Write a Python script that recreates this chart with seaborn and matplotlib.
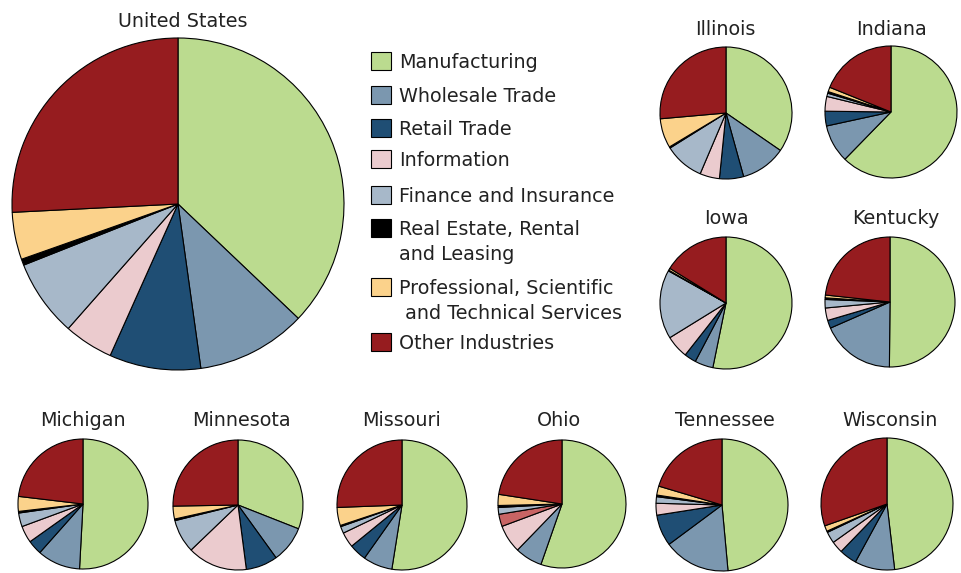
import numpy as np
import pandas as pd
import seaborn as sns
import matplotlib
matplotlib.use("Agg")
import matplotlib.pyplot as plt
from matplotlib.patches import Rectangle

sns.set_theme(style="white")
plt.rcParams['font.family'] = ['DejaVu Sans']

# shares of each industry (percent)
regions = ["United States", "Illinois", "Indiana", "Iowa", "Kentucky", "Michigan",
           "Minnesota", "Missouri", "Ohio", "Tennessee", "Wisconsin"]
manufacturing = [37.1, 34.6, 62.3, 53.2, 50.2, 50.8, 31.0, 52.5, 55.4, 48.6, 48.2]
wholesale = [10.7, 11.1, 9.3, 4.5, 18.3, 10.7, 9.1, 7.3, 6.9, 16.3, 9.8]
retail = [8.9, 5.9, 3.6, 2.9, 2.0, 3.6, 7.9, 4.3, 0.0, 7.7, 4.3]
information = [4.8, 4.8, 3.6, 5.6, 3.1, 4.2, 14.9, 3.8, 7.1, 2.9, 2.9]
unlabeled = [0, 0, 0, 0, 0, 0, 0, 0, 3.1, 0, 0]   # odd extra slice in Ohio
finance = [7.5, 9.7, 0.8, 16.9, 2.1, 3.4, 8.3, 1.7, 1.7, 1.6, 2.8]
real_estate = [0.6, 0.3, 0.4, 0.2, 0.4, 0.4, 0.4, 0.3, 0.5, 0.4, 0.3]
professional = [4.6, 7.2, 1.1, 0.5, 0.7, 3.7, 3.2, 4.5, 2.8, 2.2, 1.4]
other = [25.8, 26.4, 18.9, 16.2, 23.3, 23.1, 25.3, 25.6, 22.6, 20.4, 30.4]

categories = ["Manufacturing", "Wholesale Trade", "Retail Trade", "Information", "(unlabeled)",
              "Finance and Insurance", "Real Estate, Rental\nand Leasing",
              "Professional, Scientific\n and Technical Services", "Other Industries"]
colors = ["#bbdb8f", "#7b97af", "#1f4e74", "#ebcbce", "#c86464",
          "#a7b8c9", "#000000", "#fbd28b", "#961c1f"]

df = pd.DataFrame([manufacturing, wholesale, retail, information, unlabeled,
                   finance, real_estate, professional, other],
                  index=categories, columns=regions)
palette = dict(zip(categories, sns.color_palette(colors)))

W, H = 961, 573
fig = plt.figure(figsize=(W / 100, H / 100), dpi=100)
fig.patch.set_facecolor("white")

# pie centre x, centre y, radius (px) and title baseline
layout = {
    "United States": (178, 204, 166, 183, 27),
    "Illinois": (726, 113, 66, 725, 35),
    "Indiana": (891, 112, 66, 891, 35),
    "Iowa": (726, 303, 66, 726, 224),
    "Kentucky": (890, 302, 65, 896, 224),
    "Michigan": (83, 504, 65, 83, 426),
    "Minnesota": (238, 505, 65, 241, 426),
    "Missouri": (402, 505, 65, 402, 426),
    "Ohio": (562, 504, 64, 559, 426),
    "Tennessee": (722, 505, 66, 725, 426),
    "Wisconsin": (887, 504, 66, 890, 426),
}

pad = 1.02
txt = "#222222"
for reg in regions:
    cx, cy, r, tx, ty = layout[reg]
    rr = r * pad
    ax = fig.add_axes([(cx - rr) / W, 1 - (cy + rr) / H, 2 * rr / W, 2 * rr / H])
    s = df[reg]
    s = s[s > 0]
    ax.pie(s.values, colors=[palette[c] for c in s.index], startangle=90,
           counterclock=False, radius=1,
           wedgeprops=dict(edgecolor="black", linewidth=0.8))
    ax.set_xlim(-pad, pad)
    ax.set_ylim(-pad, pad)
    ax.set_aspect("auto")
    ax.axis("off")
    fig.text(tx / W, 1 - ty / H, reg, ha="center", va="baseline",
             fontsize=13.8, color=txt)

# legend drawn by hand so two-line labels keep the box on the first line
lax = fig.add_axes([0, 0, 1, 1])
lax.set_xlim(0, W)
lax.set_ylim(H, 0)
lax.axis("off")
leg_y = [61, 95, 128, 159, 195, 228, 287, 342]
leg_cats = [c for c in categories if c != "(unlabeled)"]
for c, y in zip(leg_cats, leg_y):
    lax.add_patch(Rectangle((371, y - 9), 20, 18, facecolor=palette[c],
                            edgecolor="black", linewidth=0.8))
    for i, line in enumerate(c.split("\n")):
        lax.text(399, y + 7 + i * 25, line, ha="left", va="baseline",
                 fontsize=13.8, color=txt)

fig.savefig("out.png", dpi=100, facecolor="white")
